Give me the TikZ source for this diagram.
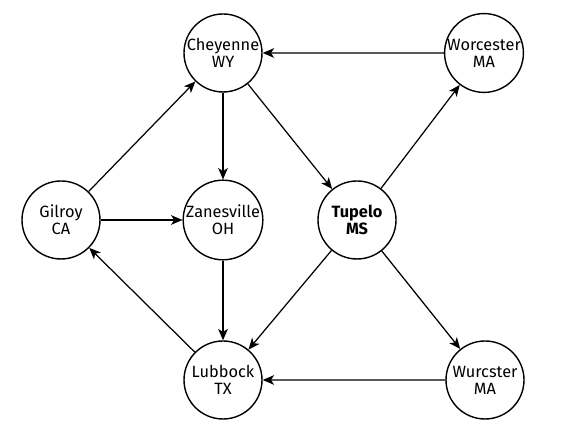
\documentclass[tikz,border=0pt]{standalone}
\usepackage{fontspec}
\setmainfont{Fira Sans}
\usetikzlibrary{shapes,arrows.meta}
\tikzstyle{city} = [circle, draw, thick, align=center, %fill=white,
    minimum size=1.56cm, inner sep=0pt,
    font=\fontsize{9.3}{9.8}\selectfont]
\tikzstyle{line} = [draw, line width=0.7pt, -{Stealth[length=6.5pt, width=5.5pt, inset=1.8pt]}]

\begin{document}
\begin{tikzpicture}[node distance = 3.3cm, auto]
    \useasboundingbox (0,0) rectangle (11.52,8.5);
    \node [city] (zanesville) at (4.46,4.1) {Zanesville\\OH};
    \node [city, above of=zanesville, node distance=3.34cm] (cheyenne) {Cheyenne\\WY};
    \node [city, below of=zanesville, node distance=3.2cm] (lubbock) {Lubbock\\TX};
    \node [city, left of=zanesville, node distance=3.24cm] (gilroy) {Gilroy\\CA};
    \node [city, right of=zanesville, node distance=2.68cm,
        font=\fontsize{9.3}{9.8}\selectfont\bfseries] (tupelo) {Tupelo\\MS};
    \node [city] (worcester) at (9.68,7.44) {Worcester\\MA};
    \node [city] (wurcster) at (9.70,0.9) {Wurcster\\MA};
    \path [line] (gilroy) -- (cheyenne);
    \path [line] (worcester) -- (cheyenne);
    \path [line] (cheyenne) -- (zanesville);
    \path [line] (cheyenne) -- (tupelo);
    \path [line] (gilroy) -- (zanesville);
    \path [line] (tupelo) -- (worcester);
    \path [line] (tupelo) -- (lubbock);
    \path [line] (tupelo) -- (wurcster);
    \path [line] (zanesville) -- (lubbock);
    \path [line] (lubbock) -- (gilroy);
    \path [line] (wurcster) -- (lubbock);
\end{tikzpicture}
\end{document}
